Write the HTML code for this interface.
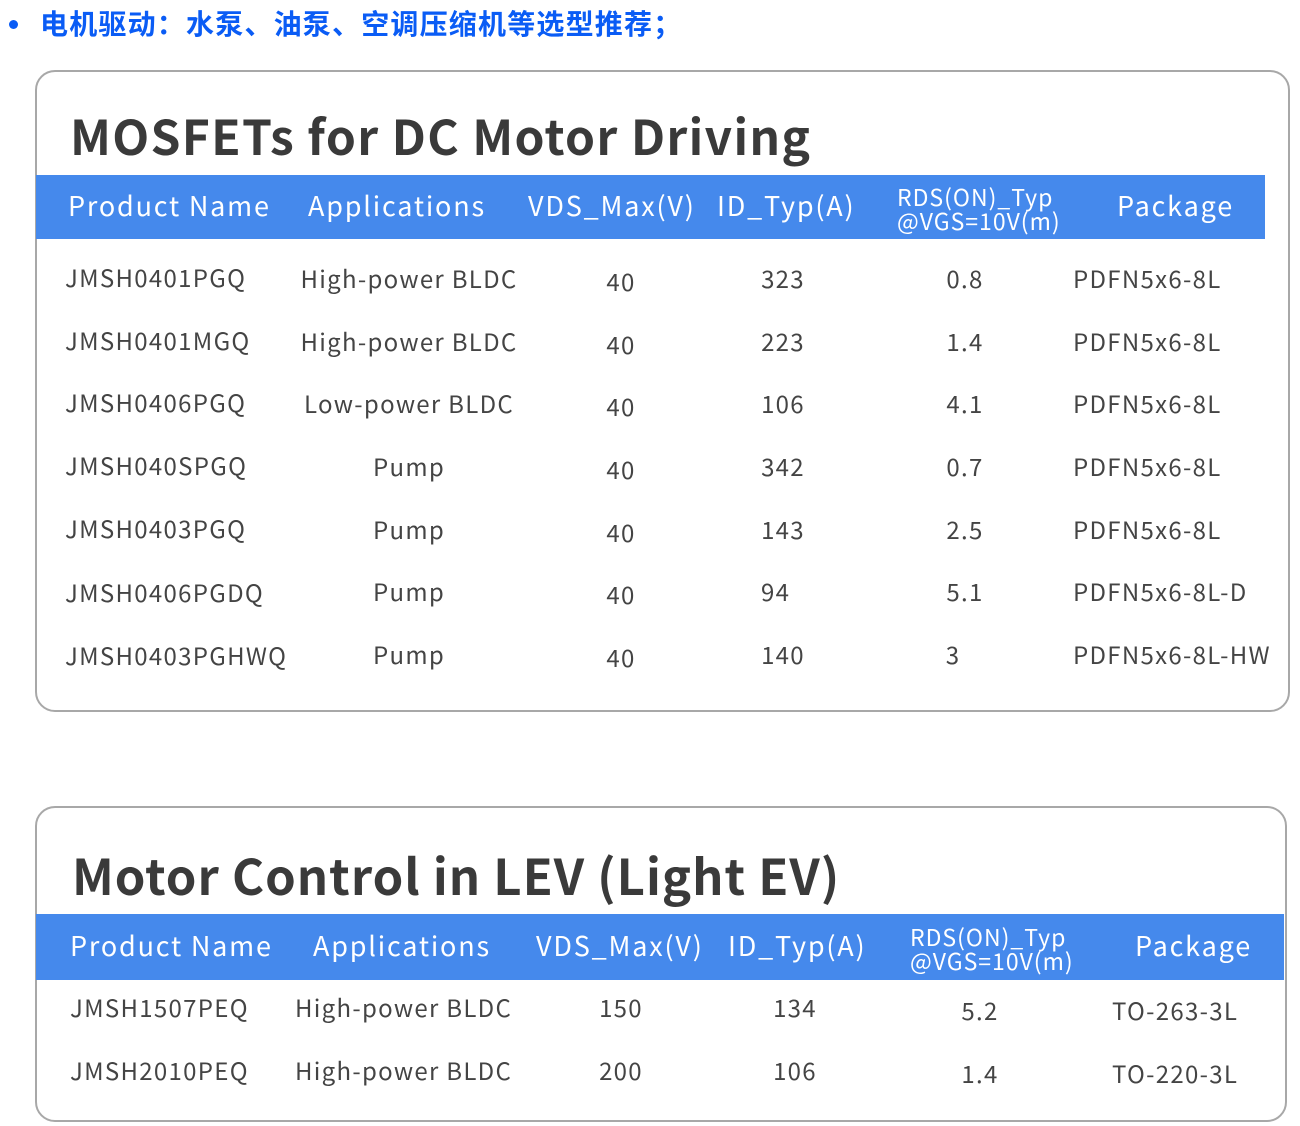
<!DOCTYPE html>
<html><head><meta charset="utf-8"><style>
body{margin:0;width:1300px;height:1126px;background:#fff;position:relative;overflow:hidden;font-family:"Noto Sans CJK SC","Liberation Sans",sans-serif;}
.a{position:absolute;white-space:nowrap;line-height:1;}
.c{transform:translateX(-50%);}
.card{position:absolute;border:2px solid #a8a8a8;border-radius:20px;background:#fff;}
.band{position:absolute;background:#4589ec;}
.h{color:#fff;font-size:27px;letter-spacing:1.8px;}
.h2{color:#fff;font-size:23px;line-height:1.05;letter-spacing:1px;}
.r{color:#444;font-size:24px;letter-spacing:1.3px;}
</style></head><body>
<div class="a" style="left:9px;top:20px;width:9px;height:9px;border-radius:50%;background:#0a5cf5;"></div>
<div class="a" style="left:40px;top:9px;font-size:28px;font-weight:bold;color:#0a5cf5;letter-spacing:1.2px;">电机驱动：水泵、油泵、空调压缩机等选型推荐；</div>

<div class="card" style="left:35px;top:70px;width:1251px;height:638px;"></div>
<div class="a" style="left:70px;top:110px;font-size:48px;font-weight:bold;color:#3a3a3a;letter-spacing:1.3px;">MOSFETs for DC Motor Driving</div>
<div class="band" style="left:36px;top:175px;width:1229px;height:64px;"></div>
<div class="a h" style="left:68px;top:191px;">Product Name</div>
<div class="a h" style="left:308px;top:191px;">Applications</div>
<div class="a h" style="left:528px;top:191px;">VDS_Max(V)</div>
<div class="a h" style="left:717px;top:191px;">ID_Typ(A)</div>
<div class="a h2" style="left:897px;top:184px;">RDS(ON)_Typ<br>@VGS=10V(m)</div>
<div class="a h" style="left:1117px;top:191px;">Package</div>

<div class="a r" style="left:65px;top:265px;">JMSH0401PGQ</div><div class="a r c" style="left:409px;top:266px;">High-power BLDC</div><div class="a r c" style="left:621px;top:269px;">40</div><div class="a r c" style="left:783px;top:266px;">323</div><div class="a r c" style="left:965px;top:266px;">0.8</div><div class="a r" style="left:1073px;top:266px;">PDFN5x6-8L</div>
<div class="a r" style="left:65px;top:328px;">JMSH0401MGQ</div><div class="a r c" style="left:409px;top:329px;">High-power BLDC</div><div class="a r c" style="left:621px;top:332px;">40</div><div class="a r c" style="left:783px;top:329px;">223</div><div class="a r c" style="left:965px;top:329px;">1.4</div><div class="a r" style="left:1073px;top:329px;">PDFN5x6-8L</div>
<div class="a r" style="left:65px;top:390px;">JMSH0406PGQ</div><div class="a r c" style="left:409px;top:391px;">Low-power BLDC</div><div class="a r c" style="left:621px;top:394px;">40</div><div class="a r c" style="left:783px;top:391px;">106</div><div class="a r c" style="left:965px;top:391px;">4.1</div><div class="a r" style="left:1073px;top:391px;">PDFN5x6-8L</div>
<div class="a r" style="left:65px;top:453px;">JMSH040SPGQ</div><div class="a r c" style="left:409px;top:454px;">Pump</div><div class="a r c" style="left:621px;top:457px;">40</div><div class="a r c" style="left:783px;top:454px;">342</div><div class="a r c" style="left:965px;top:454px;">0.7</div><div class="a r" style="left:1073px;top:454px;">PDFN5x6-8L</div>
<div class="a r" style="left:65px;top:516px;">JMSH0403PGQ</div><div class="a r c" style="left:409px;top:517px;">Pump</div><div class="a r c" style="left:621px;top:520px;">40</div><div class="a r c" style="left:783px;top:517px;">143</div><div class="a r c" style="left:965px;top:517px;">2.5</div><div class="a r" style="left:1073px;top:517px;">PDFN5x6-8L</div>
<div class="a r" style="left:65px;top:580px;">JMSH0406PGDQ</div><div class="a r c" style="left:409px;top:579px;">Pump</div><div class="a r c" style="left:621px;top:582px;">40</div><div class="a r" style="left:761px;top:579px;">94</div><div class="a r c" style="left:965px;top:579px;">5.1</div><div class="a r" style="left:1073px;top:579px;">PDFN5x6-8L-D</div>
<div class="a r" style="left:65px;top:643px;">JMSH0403PGHWQ</div><div class="a r c" style="left:409px;top:642px;">Pump</div><div class="a r c" style="left:621px;top:645px;">40</div><div class="a r c" style="left:783px;top:642px;">140</div><div class="a r c" style="left:953px;top:642px;">3</div><div class="a r" style="left:1073px;top:642px;">PDFN5x6-8L-HW</div>

<div class="card" style="left:35px;top:806px;width:1248px;height:312px;"></div>
<div class="a" style="left:72px;top:850px;font-size:49px;font-weight:bold;color:#3a3a3a;letter-spacing:1px;">Motor Control in LEV (Light EV)</div>
<div class="band" style="left:36px;top:914px;width:1248px;height:66px;"></div>
<div class="a h" style="left:70px;top:931px;">Product Name</div>
<div class="a h" style="left:313px;top:931px;">Applications</div>
<div class="a h" style="left:536px;top:931px;">VDS_Max(V)</div>
<div class="a h" style="left:728px;top:931px;">ID_Typ(A)</div>
<div class="a h2" style="left:910px;top:924px;">RDS(ON)_Typ<br>@VGS=10V(m)</div>
<div class="a h" style="left:1135px;top:931px;">Package</div>

<div class="a r" style="left:70px;top:995px;">JMSH1507PEQ</div><div class="a r" style="left:295px;top:995px;">High-power BLDC</div><div class="a r c" style="left:621px;top:995px;">150</div><div class="a r c" style="left:795px;top:995px;">134</div><div class="a r c" style="left:980px;top:998px;">5.2</div><div class="a r" style="left:1112px;top:998px;">TO-263-3L</div>
<div class="a r" style="left:70px;top:1058px;">JMSH2010PEQ</div><div class="a r" style="left:295px;top:1058px;">High-power BLDC</div><div class="a r c" style="left:621px;top:1058px;">200</div><div class="a r c" style="left:795px;top:1058px;">106</div><div class="a r c" style="left:980px;top:1061px;">1.4</div><div class="a r" style="left:1112px;top:1061px;">TO-220-3L</div>
</body></html>
